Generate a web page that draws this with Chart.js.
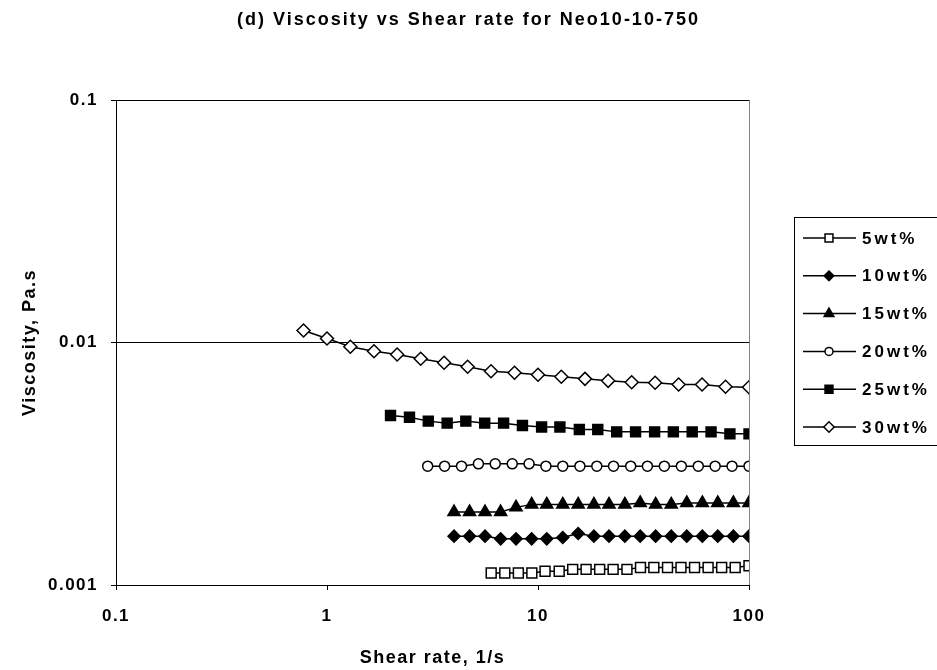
<!DOCTYPE html>
<html>
<head>
    <title>Viscosity vs Shear rate</title>
    <script src="https://cdn.jsdelivr.net/npm/chart.js"></script>
    <style>
        body { margin: 0; background: #fff; }
    </style>
</head>
<body>
    <canvas id="viscChart" width="937" height="670"></canvas>

    <script>
        // shear rate (1/s) and viscosity (Pa.s) for each concentration
        const shear5 = [6, 6.96, 8.07, 9.35, 10.8, 12.6, 14.6, 16.9, 19.6, 22.7, 26.4, 30.6, 35.4, 41.1, 47.6, 55.2, 64.0, 74.2, 86.0, 100];
        const visc5 = [0.00112, 0.00112, 0.00112, 0.00112, 0.00114, 0.00114, 0.00116, 0.00116, 0.00116, 0.00116, 0.00116, 0.00118, 0.00118, 0.00118, 0.00118, 0.00118, 0.00118, 0.00118, 0.00118, 0.0012];

        const shear10 = [4, 4.74, 5.61, 6.65, 7.87, 9.33, 11.0, 13.1, 15.5, 18.4, 21.7, 25.8, 30.5, 36.1, 42.8, 50.7, 60.1, 71.1, 84.3, 100];
        const visc10 = [0.00159, 0.00159, 0.00159, 0.00155, 0.00155, 0.00155, 0.00155, 0.00157, 0.00163, 0.00159, 0.00159, 0.00159, 0.00159, 0.00159, 0.00159, 0.00159, 0.00159, 0.00159, 0.00159, 0.00159];

        const shear15 = [4, 4.74, 5.61, 6.65, 7.87, 9.33, 11.0, 13.1, 15.5, 18.4, 21.7, 25.8, 30.5, 36.1, 42.8, 50.7, 60.1, 71.1, 84.3, 100];
        const visc15 = [0.0020, 0.0020, 0.0020, 0.0020, 0.00209, 0.00215, 0.00215, 0.00215, 0.00215, 0.00215, 0.00215, 0.00215, 0.00218, 0.00215, 0.00215, 0.00218, 0.00218, 0.00218, 0.00218, 0.00218];

        const shear20 = [3, 3.61, 4.34, 5.22, 6.27, 7.55, 9.07, 10.9, 13.1, 15.8, 19.0, 22.8, 27.5, 33.0, 39.7, 47.8, 57.5, 69.1, 83.1, 100];
        const visc20 = [0.00309, 0.00309, 0.00309, 0.00316, 0.00316, 0.00316, 0.00316, 0.00309, 0.00309, 0.00309, 0.00309, 0.00309, 0.00309, 0.00309, 0.00309, 0.00309, 0.00309, 0.00309, 0.00309, 0.00309];

        const shear25 = [2, 2.46, 3.02, 3.71, 4.55, 5.59, 6.87, 8.44, 10.4, 12.7, 15.7, 19.2, 23.6, 29.0, 35.7, 43.8, 53.8, 66.1, 81.2, 100];
        const visc25 = [0.0050, 0.00492, 0.00474, 0.00465, 0.00474, 0.00465, 0.00465, 0.00455, 0.00448, 0.00448, 0.00438, 0.00438, 0.00428, 0.00428, 0.00428, 0.00428, 0.00428, 0.00428, 0.0042, 0.0042];

        const shear30 = [0.774, 1, 1.29, 1.67, 2.15, 2.78, 3.59, 4.64, 5.99, 7.74, 10, 12.9, 16.7, 21.5, 27.8, 35.9, 46.4, 59.9, 77.4, 100];
        const visc30 = [0.01121, 0.01039, 0.0096, 0.0092, 0.00892, 0.00857, 0.00825, 0.00794, 0.00761, 0.0075, 0.00736, 0.00722, 0.00708, 0.00695, 0.00686, 0.00682, 0.00671, 0.00671, 0.00657, 0.00654];

        const seriesLabels = ['5wt%', '10wt%', '15wt%', '20wt%', '25wt%', '30wt%'];
        const xTicks = [0.1, 1, 10, 100];
        const yTicks = [0.001, 0.01, 0.1];
        const chartTitle = '(d) Viscosity vs Shear rate for Neo10-10-750';

        const FONT = "'Liberation Sans', Arial, sans-serif";

        const pts = (xs, ys) => xs.map((x, i) => ({ x: x, y: ys[i] }));

        // marker look per series: [pointStyle, radius, filled]
        const markers = [
            ['rect', 7, false],
            ['rectRot', 6, true],
            ['triangle', 7, true],
            ['circle', 5, false],
            ['rect', 7, true],
            ['rectRot', 6.5, false]
        ];
        const seriesData = [
            pts(shear5, visc5), pts(shear10, visc10), pts(shear15, visc15),
            pts(shear20, visc20), pts(shear25, visc25), pts(shear30, visc30)
        ];

        const datasets = seriesLabels.map((label, i) => ({
            label: label,
            data: seriesData[i],
            borderColor: '#000',
            borderWidth: 1.5,
            pointStyle: markers[i][0],
            pointRadius: markers[i][1],
            pointBackgroundColor: markers[i][2] ? '#000' : '#fff',
            pointBorderColor: '#000',
            pointBorderWidth: 1.5,
            tension: 0
        }));

        // wide, spaced lettering for axis text
        const spacing = {
            id: 'spacing',
            beforeDraw(chart) { chart.ctx.letterSpacing = '1.5px'; }
        };

        // grey frame line on the right side of the plot area
        const frame = {
            id: 'frame',
            beforeDatasetsDraw(chart) {
                const { ctx, chartArea: a } = chart;
                ctx.save();
                ctx.strokeStyle = '#808080';
                ctx.lineWidth = 1;
                ctx.beginPath();
                ctx.moveTo(a.right + 0.5, a.top);
                ctx.lineTo(a.right + 0.5, a.bottom);
                ctx.stroke();
                ctx.restore();
            }
        };

        // title centred across the whole canvas
        const topTitle = {
            id: 'topTitle',
            afterDraw(chart) {
                const ctx = chart.ctx;
                ctx.save();
                ctx.letterSpacing = '2px';
                ctx.font = 'bold 18px ' + FONT;
                ctx.fillStyle = '#000';
                ctx.textAlign = 'center';
                ctx.textBaseline = 'middle';
                ctx.fillText(chartTitle, chart.width / 2, 20);
                ctx.restore();
            }
        };

        // boxed legend to the right of the plot
        const boxLegend = {
            id: 'boxLegend',
            afterDraw(chart) {
                const { ctx, chartArea: a } = chart;
                const left = a.right + 45, top = 217, rowH = 37.8;
                ctx.save();
                ctx.strokeStyle = '#000';
                ctx.lineWidth = 1;
                ctx.strokeRect(left + 0.5, top + 0.5, 160, 228);
                chart.data.datasets.forEach((ds, i) => {
                    const y = top + 21 + i * rowH;
                    ctx.strokeStyle = '#000';
                    ctx.lineWidth = 1.5;
                    ctx.beginPath();
                    ctx.moveTo(left + 9, y);
                    ctx.lineTo(left + 62, y);
                    ctx.stroke();
                    ctx.fillStyle = ds.pointBackgroundColor;
                    Chart.helpers.drawPoint(ctx, {
                        pointStyle: ds.pointStyle,
                        radius: ds.pointRadius * 0.8,
                        rotation: 0,
                        borderWidth: 1.5
                    }, left + 35, y);
                    ctx.fillStyle = '#000';
                    ctx.letterSpacing = '3px';
                    ctx.font = 'bold 17px ' + FONT;
                    ctx.textAlign = 'left';
                    ctx.textBaseline = 'middle';
                    ctx.fillText(ds.label, left + 68, y + 1);
                });
                ctx.restore();
            }
        };

        const ctx = document.getElementById('viscChart').getContext('2d');
        new Chart(ctx, {
            type: 'line',
            data: { datasets: datasets },
            plugins: [spacing, frame, topTitle, boxLegend],
            options: {
                responsive: false,
                animation: false,
                layout: { padding: { top: 100, right: 188, bottom: 0, left: 0 } },
                plugins: {
                    legend: { display: false },
                    tooltip: { enabled: false },
                    title: { display: false }
                },
                scales: {
                    x: {
                        type: 'logarithmic',
                        min: 0.1,
                        max: 100,
                        afterBuildTicks: s => { s.ticks = xTicks.map(v => ({ value: v })); },
                        afterFit: s => { s.height = 85; },
                        ticks: {
                            color: '#000',
                            font: { family: FONT, size: 17, weight: 'bold' },
                            padding: 16,
                            maxRotation: 0,
                            callback: v => String(v)
                        },
                        grid: { drawOnChartArea: false, color: '#000', tickLength: 5 },
                        border: { color: '#000', width: 1 },
                        title: {
                            display: true,
                            text: 'Shear rate, 1/s',
                            color: '#000',
                            font: { family: FONT, size: 18, weight: 'bold', lineHeight: 1.2 },
                            padding: { top: 0, bottom: 1 }
                        }
                    },
                    y: {
                        type: 'logarithmic',
                        min: 0.001,
                        max: 0.1,
                        afterBuildTicks: s => { s.ticks = yTicks.map(v => ({ value: v })); },
                        afterFit: s => { s.width = 116; },
                        ticks: {
                            color: '#000',
                            font: { family: FONT, size: 17, weight: 'bold' },
                            padding: 13,
                            callback: v => String(v)
                        },
                        grid: { color: '#000', lineWidth: 1, tickLength: 5 },
                        border: { color: '#000', width: 1 },
                        title: {
                            display: true,
                            text: 'Viscosity, Pa.s',
                            color: '#000',
                            font: { family: FONT, size: 18, weight: 'bold', lineHeight: 1.2 },
                            padding: { top: 19, bottom: 0 }
                        }
                    }
                }
            }
        });
    </script>
</body>
</html>
